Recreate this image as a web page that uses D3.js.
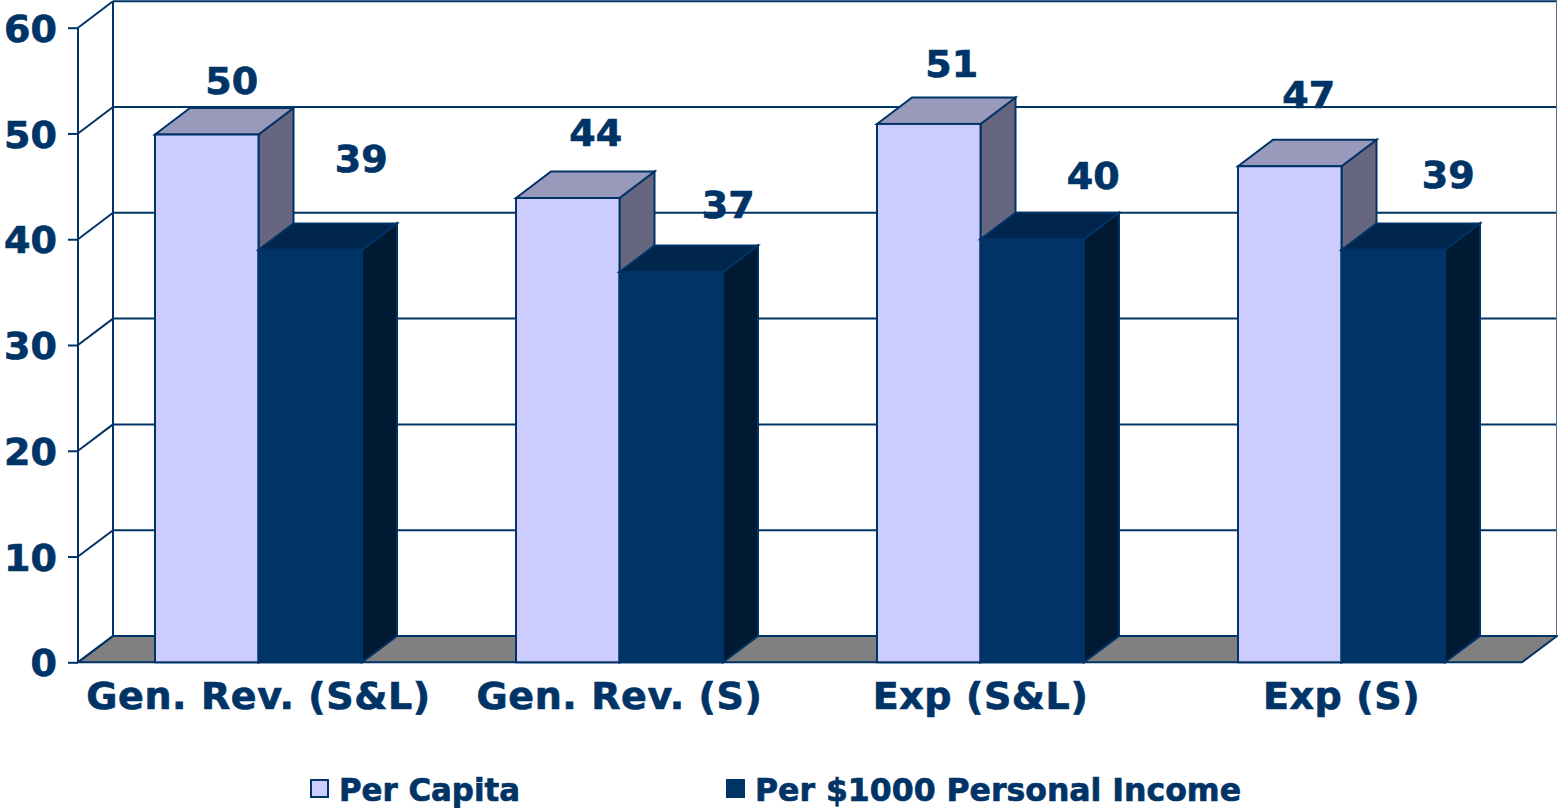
<!DOCTYPE html>
<html><head><meta charset="utf-8">
<script src="https://cdn.jsdelivr.net/npm/d3@7/dist/d3.min.js"></script>
<style>html,body{margin:0;padding:0;background:#fff;overflow:hidden}svg{display:block}
text{font-family:"DejaVu Sans",Verdana,sans-serif;font-weight:700;fill:#003366;stroke:#003366;stroke-width:0.7px}</style>
</head><body><svg id="c" width="1558" height="808"></svg>
<script>
const categories = ["Gen. Rev. (S&L)", "Gen. Rev. (S)", "Exp (S&L)", "Exp (S)"];
const seriesNames = ["Per Capita", "Per $1000 Personal Income"];
const perCapita = [49.9, 43.9, 50.9, 46.9];
const perIncome = [39, 36.9, 40, 39];
const yTicks = [0, 10, 20, 30, 40, 50, 60];
const seriesValues = [perCapita, perIncome];

// layout (not data)
const navy = "#003366";
const depthX = 35;
const frontFill = ["#ccccff", "#003366"];
const topFill = ["#9999bb", "#00264d"];
const sideFill = ["#666680", "#001a33"];
const labelShift = [[[25,-41],[51,-78]],[[28,-52],[57,-54]],[[23,-47],[61,-50]],[[19,-58],[55,-62]]];
const legendItems = [{swatch: 311, text: 339, length: 181}, {swatch: 727, text: 755, length: 486}];

const svg = d3.select("#c");
const y = d3.scaleLinear().domain([0, 60]).range([662.3, 27.7]);
const yBack = d3.scaleLinear().domain([0, 60]).range([636, 1.2]);
const x0 = d3.scaleBand().domain(categories).range([78, 1522]);
const x1 = d3.scaleBand().domain(d3.range(2)).range([0, x0.bandwidth()]).paddingInner(0).paddingOuter(0.744);
const pts = a => a.map(p => p.join(",")).join(" ");
const line = (xa, ya, xb, yb, w = 2, col = navy) => svg.append("line").attr("x1", xa).attr("y1", ya).attr("x2", xb).attr("y2", yb).attr("stroke", col).attr("stroke-width", w);

const xL = x0.range()[0], xR = x0.range()[1], yB = y(0), yBB = yBack(0);

// floor
svg.append("polygon").attr("points", pts([[xL,yB],[xL+depthX,yBB],[xR+depthX,yBB],[xR,yB]]))
  .attr("fill", "#808080").attr("stroke", navy).attr("stroke-width", 2);

// walls + gridlines
yTicks.forEach(t => {
  line(xL + depthX, yBack(t), xR + depthX, yBack(t));
  line(xL, y(t), xL + depthX, yBack(t));
});
line(xL, y(0), xL, y(60));
line(xL + depthX, yBack(0), xL + depthX, yBack(60));
line(xR + depthX - 0.5, yBack(0), xR + depthX - 0.5, yBack(60), 1, "#4d7094");

// axes
const gy = svg.append("g").attr("transform", `translate(${xL},0)`)
  .call(d3.axisLeft(y).tickValues(yTicks).tickSize(10).tickPadding(11).tickFormat(d3.format("d")));
gy.select(".domain").remove();
gy.selectAll("line").attr("stroke", navy).attr("stroke-width", 2);
gy.selectAll("text").style("font-size", "38px").attr("dy", "0.36em");

const gx = svg.append("g").attr("transform", `translate(0,${yB})`)
  .call(d3.axisBottom(x0).tickSize(0).tickPadding(0));
gx.select(".domain").remove();
gx.selectAll("text").style("font-size", "38px").style("letter-spacing", "0.6px").attr("y", 47).attr("dy", 0);

// bars
categories.forEach((c, i) => {
  seriesValues.forEach((vals, s) => {
    const v = vals[i], xa = x0(c) + x1(s), w = x1.bandwidth(), t = y(v), tb = yBack(v);
    const g = svg.append("g");
    g.append("polygon").attr("points", pts([[xa+w,t],[xa+w+depthX,tb],[xa+w+depthX,yBB],[xa+w,yB]]))
      .attr("fill", sideFill[s]).attr("stroke", navy).attr("stroke-width", 2);
    g.append("polygon").attr("points", pts([[xa,t],[xa+depthX,tb],[xa+w+depthX,tb],[xa+w,t]]))
      .attr("fill", topFill[s]).attr("stroke", navy).attr("stroke-width", 2);
    g.append("rect").attr("x", xa).attr("y", t).attr("width", w).attr("height", yB - t)
      .attr("fill", frontFill[s]).attr("stroke", navy).attr("stroke-width", 2);
  });
});

// value labels
categories.forEach((c, i) => {
  seriesValues.forEach((vals, s) => {
    svg.append("text").attr("text-anchor", "middle")
      .attr("x", x0(c) + x1(s) + x1.bandwidth() / 2 + labelShift[i][s][0])
      .attr("y", y(vals[i]) + labelShift[i][s][1])
      .style("font-size", "38px").text(Math.round(vals[i]));
  });
});

// legend
legendItems.forEach((d, s) => {
  svg.append("rect").attr("x", d.swatch).attr("y", 780).attr("width", 17).attr("height", 17)
    .attr("fill", frontFill[s]).attr("stroke", navy).attr("stroke-width", 2);
  svg.append("text").attr("x", d.text).attr("y", 801)
    .attr("textLength", d.length).attr("lengthAdjust", "spacingAndGlyphs")
    .style("font-size", "32px").text(seriesNames[s]);
});
</script></body></html>
